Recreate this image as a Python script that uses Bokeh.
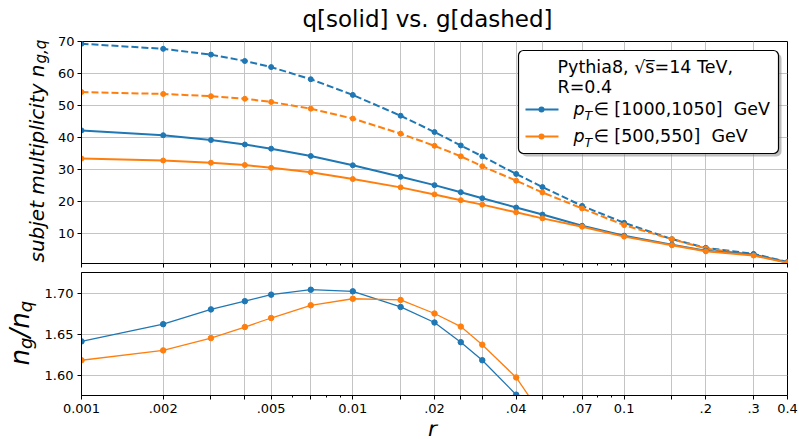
from math import pi
from bokeh.plotting import figure
from bokeh.models import FixedTicker, Label, BoxAnnotation, Arrow
from bokeh.layouts import column, row
from bokeh.embed import file_html
from bokeh.resources import INLINE

# ---- data ----
r = [0.001, 0.002, 0.003, 0.004, 0.005, 0.007, 0.01, 0.015, 0.02, 0.025,
     0.03, 0.04, 0.05, 0.07, 0.1, 0.15, 0.2, 0.3, 0.4]
g_1000 = [69.3, 67.7, 65.9, 63.9, 62.0, 58.2, 53.3, 46.8, 41.7, 37.5,
          34.1, 28.6, 24.5, 18.6, 13.3, 8.2, 5.5, 3.6, 1.1]
q_1000 = [42.2, 40.7, 39.2, 37.8, 36.5, 34.2, 31.3, 27.7, 25.1, 22.9,
          21.0, 18.1, 15.9, 12.4, 9.3, 6.5, 4.6, 3.4, 0.9]
g_500 = [54.2, 53.6, 52.9, 52.1, 51.1, 49.0, 45.9, 41.2, 37.4, 34.1,
         31.0, 26.5, 22.8, 17.8, 12.6, 8.2, 5.3, 3.2, 1.0]
q_500 = [33.4, 32.8, 32.1, 31.4, 30.5, 29.1, 27.0, 24.4, 22.2, 20.4,
         19.0, 16.6, 14.7, 12.1, 9.0, 6.3, 4.4, 3.1, 0.8]
ratio_1000 = [1.641, 1.662, 1.680, 1.690, 1.698, 1.704, 1.702, 1.683, 1.664, 1.640,
              1.618, 1.576, 1.54, 1.50, 1.43, 1.26, 1.20, 1.06, 1.22]
ratio_500 = [1.618, 1.630, 1.645, 1.6585, 1.6695, 1.685, 1.693, 1.6915, 1.675, 1.659,
             1.637, 1.597, 1.55, 1.47, 1.40, 1.30, 1.20, 1.03, 1.25]

x_minor = [0.006, 0.008, 0.009, 0.06, 0.08, 0.09]
x_labels = {0.001: "0.001", 0.002: ".002", 0.005: ".005", 0.01: "0.01", 0.02: ".02",
            0.04: ".04", 0.07: ".07", 0.1: "0.1", 0.2: ".2", 0.3: ".3", 0.4: "0.4"}
y_top_ticks = [10, 20, 30, 40, 50, 60, 70]
y_bot_ticks = [1.60, 1.65, 1.70]
y_bot_labels = {1.60: "1.60", 1.65: "1.65", 1.70: "1.70"}

BLUE = "#1f77b4"
ORANGE = "#ff7f0e"
FONT = "DejaVu Sans"
GRID = "#c4c4c4"
MID = 0.346  # distance (in em) from the text middle to the alphabetic baseline


def text_fig(w, h):
    f = figure(width=w, height=h, x_range=(0, w), y_range=(0, h),
               x_axis_location=None, y_axis_location=None,
               min_border=0, min_border_left=0, min_border_right=0,
               min_border_top=0, min_border_bottom=0, frame_align=False,
               output_backend="svg", toolbar_location=None)
    f.outline_line_color = None
    f.grid.visible = False
    f.background_fill_color = "white"
    f.border_fill_color = "white"
    return f


def lab(f, x, y, text, size, italic=False, angle=0.0, align="left", units="screen"):
    f.add_layout(Label(x=x, y=y, x_units=units, y_units=units, angle=angle,
                       text=text, text_font=FONT, text_font_size=f"{size}px",
                       text_font_style="italic" if italic else "normal",
                       text_align=align, text_baseline="middle", text_color="black"))


def hlab(f, x, base_y, text, size, **kw):
    # horizontal text, given its baseline (y measured upward)
    lab(f, x, base_y + MID * size, text, size, **kw)


def vlab(f, base_x, y, text, size, **kw):
    # text rotated by 90 degrees, given its baseline x
    lab(f, base_x - MID * size, y, text, size, angle=pi / 2, units="data", **kw)


def style(p, show_labels=True):
    p.background_fill_color = "white"
    p.border_fill_color = "white"
    p.outline_line_color = "black"
    p.outline_line_width = 1
    for ax in (p.xaxis[0], p.yaxis[0]):
        ax.axis_line_color = "black"
        ax.major_tick_line_color = "black"
        ax.minor_tick_line_color = "black"
        ax.major_tick_in = 0
        ax.major_tick_out = 4
        ax.minor_tick_in = 0
        ax.minor_tick_out = 2
        ax.major_label_text_font = FONT
        ax.major_label_text_color = "black"
        ax.major_label_text_font_size = "13px"
        ax.major_label_standoff = 4
    xt = FixedTicker(ticks=r, minor_ticks=x_minor)
    p.xaxis.ticker = xt
    p.xgrid.ticker = xt
    if show_labels:
        p.xaxis.major_label_overrides = {v: x_labels.get(v, "") for v in r}
    else:
        p.xaxis.major_label_overrides = {v: "" for v in r}
        p.xaxis.major_label_standoff = 0
    p.xgrid.grid_line_color = GRID
    p.ygrid.grid_line_color = GRID
    p.xgrid.grid_line_width = 1
    p.ygrid.grid_line_width = 1


# ---------------- title strip ----------------
tfig = text_fig(799, 33)
lab(tfig, 427, 15, "q[solid] vs. g[dashed]", 23, align="center", units="data")

# ---------------- top panel ----------------
p1 = figure(x_axis_type="log", x_range=(0.001, 0.4), y_range=(0.6, 70),
            frame_width=706, frame_height=222, frame_align=False,
            min_border_left=31, min_border_right=12, min_border_top=8, min_border_bottom=9,
            output_backend="svg", toolbar_location=None)
style(p1, show_labels=False)
p1.yaxis.ticker = FixedTicker(ticks=y_top_ticks)
p1.ygrid.ticker = FixedTicker(ticks=y_top_ticks)
p1.yaxis.major_label_standoff = 3

for ys, col, dash in ((g_1000, BLUE, "7 3"), (g_500, ORANGE, "7 3"),
                      (q_1000, BLUE, "solid"), (q_500, ORANGE, "solid")):
    p1.line(r, ys, line_color=col, line_width=2, line_dash=dash)
    p1.scatter(r, ys, size=5, fill_color=col, line_color=col)

# legend box with shadow (screen units relative to the frame)
p1.add_layout(BoxAnnotation(left=440, right=700, top=210, bottom=107,
                            left_units="screen", right_units="screen",
                            top_units="screen", bottom_units="screen",
                            fill_color="gray", fill_alpha=0.5, line_alpha=0,
                            border_radius=5))
p1.add_layout(BoxAnnotation(left=437, right=697, top=213, bottom=110,
                            left_units="screen", right_units="screen",
                            top_units="screen", bottom_units="screen",
                            fill_color="white", fill_alpha=1, line_color="black",
                            line_width=1.2, line_alpha=1, border_radius=5))
lab(p1, 476, 197, "Pythia8, \u221as\u0305=14 TeV,", 17.5)
lab(p1, 476, 177, "R=0.4", 17.5)

entries = [(BLUE, "\u2208\u00a0[1000,1050]\u00a0\u00a0GeV", 154.0),
           (ORANGE, "\u2208\u00a0[500,550]\u00a0\u00a0GeV", 127.0)]
for col, txt, sy in entries:
    p1.add_layout(Arrow(end=None, x_start=444, y_start=sy, x_end=477, y_end=sy,
                        start_units="screen", end_units="screen",
                        line_color=col, line_width=2))
    p1.add_layout(BoxAnnotation(left=457, right=463, top=sy + 3, bottom=sy - 3,
                                left_units="screen", right_units="screen",
                                top_units="screen", bottom_units="screen",
                                fill_color=col, fill_alpha=1, line_alpha=0,
                                border_radius=3))
    hlab(p1, 492, sy - 6, "p", 17.5, italic=True)
    hlab(p1, 503, sy - 10, "T", 12.5, italic=True)
    hlab(p1, 512, sy - 6, txt, 17.5)

# y label strip for the top panel (height = p1 height: 8 + 222 + 9)
ylab1 = text_fig(50, 239)
vlab(ylab1, 43, 10, "subjet multiplicity n", 20, italic=True)
vlab(ylab1, 46, 209, "g,q", 15, italic=True)

# ---------------- bottom panel ----------------
p2 = figure(x_axis_type="log", x_range=(0.001, 0.4), y_range=(1.575, 1.725),
            frame_width=706, frame_height=123, frame_align=False,
            min_border_left=43, min_border_right=12, min_border_top=0, min_border_bottom=29,
            output_backend="svg", toolbar_location=None)
style(p2)
p2.yaxis.ticker = FixedTicker(ticks=y_bot_ticks)
p2.ygrid.ticker = FixedTicker(ticks=y_bot_ticks)
p2.yaxis.major_label_overrides = y_bot_labels

for ys, col in ((ratio_1000, BLUE), (ratio_500, ORANGE)):
    p2.line(r, ys, line_color=col, line_width=1.3)
    p2.scatter(r, ys, size=5.5, fill_color=col, line_color=col)

# y label strip for the bottom panel (height = p2 height: 0 + 123 + 29)
ylab2 = text_fig(38, 152)
base = 152 - 93  # start of the text (bottom) in strip coordinates
parts = [("n", 26, 28, 0.0), ("g", 18, 31, 16.5), ("/", 26, 28, 27.9),
         ("n", 26, 28, 36.7), ("q", 18, 31, 53.2)]
for t, fs, bx, dy in parts:
    vlab(ylab2, bx, base + dy, t, fs, italic=True)

# x label strip
xfig = text_fig(799, 13)
lab(xfig, 432, 1 + MID * 22, "r", 22, italic=True, align="center", units="data")

layout = column(tfig, row(ylab1, p1), row(ylab2, p2), xfig)
open("out.html", "w").write(file_html(layout, INLINE))
